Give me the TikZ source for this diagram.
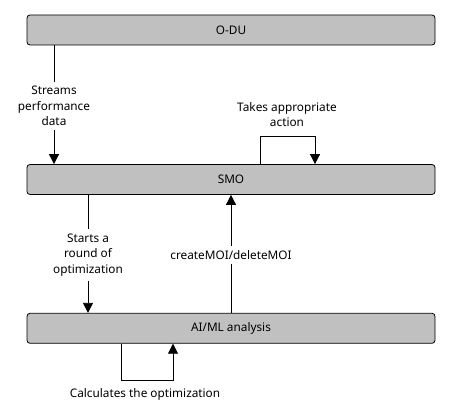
\documentclass[tikz,border=0pt]{standalone}
\usepackage{fontspec}
\setmainfont{Noto Sans}
\usetikzlibrary{arrows.meta}
\begin{document}
\begin{tikzpicture}[x=1pt,y=-1pt,
  box/.style={draw=black,fill={rgb,255:red,192;green,192;blue,192},rounded corners=3pt,minimum width=408pt,minimum height=30pt,inner sep=0pt,line width=0.8pt},
  lbl/.style={align=center,inner sep=4pt,font=\fontsize{11.8pt}{15.7pt}\selectfont},
  arr/.style={-{Triangle[width=10pt,length=10pt]},line width=0.8pt},
  ln/.style={line width=0.8pt},
  font=\fontsize{11.8pt}{15.7pt}\selectfont]
\useasboundingbox (0,0) rectangle (451,420);
\node[box] (odu) at (231,30) {O-DU};
\node[box] (smo) at (231,179.5) {SMO};
\node[box] (ai) at (231,328.3) {AI/ML analysis};
% streams
\node[lbl] (l1) at (54,106) {Streams\\performance\\data};
\draw[ln] (odu.south -| l1) -- (l1);
\draw[arr] (l1) -- (smo.north -| l1);
% takes appropriate action
\node[lbl] (l2) at (287,114.5) {Takes appropriate\\action};
\coordinate (a1) at (260,136);
\coordinate (a2) at (315,136);
\draw[arr] (smo.north -| a1) -- (a1) -- (a2) -- (smo.north -| a2);
% starts a round
\node[lbl] (l3) at (88,255) {Starts a\\round of\\optimization};
\draw[ln] (smo.south -| l3) -- (l3);
\draw[arr] (l3) -- (ai.north -| l3);
% create/delete
\node[lbl] (l4) at (231,255) {createMOI/deleteMOI};
\draw[ln] (ai.north -| l4) -- (l4);
\draw[arr] (l4) -- (smo.south -| l4);
% calculates
\coordinate (b1) at (121,380);
\coordinate (b2) at (173,380);
\draw[arr] (ai.south -| b1) -- (b1) -- (b2) -- (ai.south -| b2);
\node[lbl] (l5) at (145,394) {Calculates the optimization};
\end{tikzpicture}
\end{document}
